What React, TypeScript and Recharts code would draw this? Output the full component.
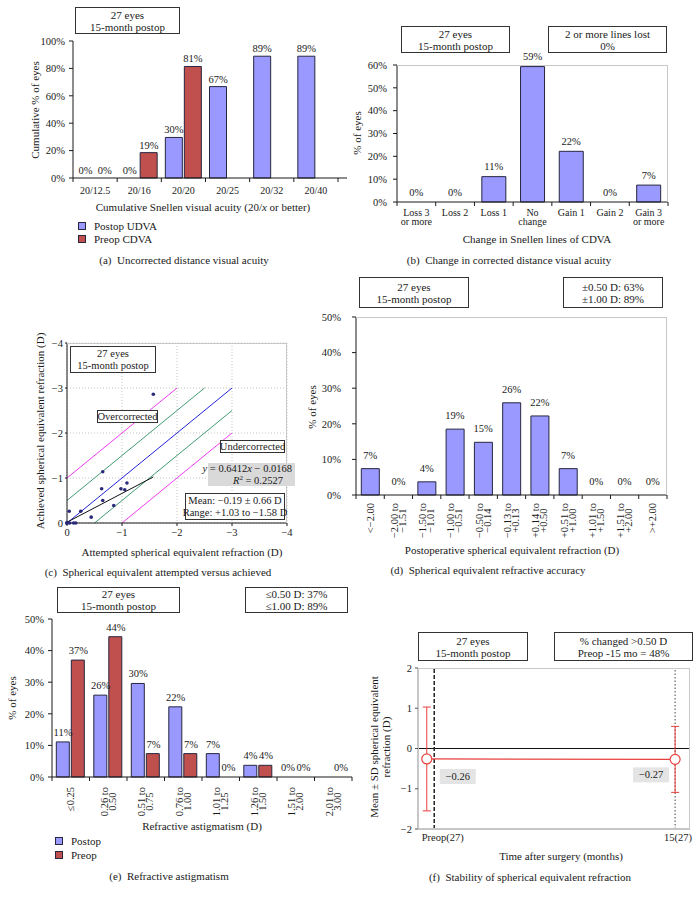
import React from "react";
import {
  Bar,
  CartesianGrid,
  ComposedChart,
  ErrorBar,
  LabelList,
  Line,
  ReferenceLine,
  Scatter,
  ScatterChart,
  XAxis,
  YAxis,
} from "recharts";

const FONT = '"Liberation Serif", "DejaVu Serif", serif';
const INK = "#1a1a1a";
const POSTOP = "#9999ff";
const PREOP = "#c0504d";
const EDGE = "#262640";
const FRAME = "#c8c8c8";
const SE_RED = "#e8403c";

// (a) cumulative UDVA / CDVA, % of 27 eyes
const acuityLabels = ["20/12.5", "20/16", "20/20", "20/25", "20/32", "20/40"];
const postopUdva = [0, 0, 29.6, 66.7, 88.9, 88.9];
const preopCdva = [0, 18.5, 81.4, null, null, null];
const acuityTicks = [0, 20, 40, 60, 80, 100];

// (b) change in Snellen lines of CDVA
const lineChangeLabels = ["Loss 3\nor more", "Loss 2", "Loss 1", "No\nchange", "Gain 1", "Gain 2", "Gain 3\nor more"];
const lineChangePct = [0, 0, 11.1, 59.3, 22.2, 0, 7.4];
const lineChangeTicks = [0, 10, 20, 30, 40, 50, 60];

// (c) attempted vs achieved SE (D)
const attemptedSE = [0, 0, 0, 0, -0.05, -0.12, -0.16, -0.04, -0.25, -0.44, -0.63, -0.65, -0.65, -0.85, -0.98, -1.05, -1.09, -1.57];
const achievedSE = [0, 0, 0, 0, 0, 0, 0, -0.26, -0.26, -0.13, -0.76, -1.14, -0.5, -0.39, -0.76, -0.74, -0.89, -2.86];
const seAxisTicks = [0, -1, -2, -3, -4];
const bandOffsets = [-1, -0.5, 0, 0.5, 1];
const bandColors = ["#f03cf0", "#3f9c70", "#2424d8", "#3f9c70", "#f03cf0"];
const fitSlope = 0.6412;
const fitIntercept = -0.0168;
const fitMinAttempted = -1.57;

// (d) postop SE accuracy
const seBins = ["<\u22122.00", "\u22122.00 to\n\u22121.51", "\u22121.50 to\n\u22121.01", "\u22121.00 to\n\u22120.51", "\u22120.50 to\n\u22120.14", "\u22120.13 to\n+0.13", "+0.14 to\n+0.50", "+0.51 to\n+1.00", "+1.01 to\n+1.50", "+1.51 to\n+2.00", ">+2.00"];
const sePct = [7.4, 0, 3.7, 18.5, 14.8, 25.9, 22.2, 7.4, 0, 0, 0];
const sePctTicks = [0, 10, 20, 30, 40, 50];

// (e) refractive astigmatism
const cylBins = ["\u22640.25", "0.26 to\n0.50", "0.51 to\n0.75", "0.76 to\n1.00", "1.01 to\n1.25", "1.26 to\n1.50", "1.51 to\n2.00", "2.01 to\n3.00"];
const cylPostop = [11.1, 25.9, 29.6, 22.2, 7.4, 3.7, 0, null];
const cylPreop = [37.0, 44.4, 7.4, 7.4, 0, 3.7, 0, 0];
const cylTicks = [0, 10, 20, 30, 40, 50];

// (f) stability of SE
const visitLabels = ["Preop(27)", "15(27)"];
const visitMonths = [0, 15];
const seMean = [-0.26, -0.27];
const seSd = [1.29, 0.82];
const stabilityTicks = [-2, -1, 0, 1, 2];

const acuityRows = acuityLabels.map((label, i) => ({ label, postop: postopUdva[i], preop: preopCdva[i] }));
const lineChangeRows = lineChangeLabels.map((label, i) => ({ label, pct: lineChangePct[i] }));
const scatterRows = attemptedSE.map((x, i) => ({ x, y: achievedSE[i] }));
const bandSegments = bandOffsets.map((o) => {
  const x0 = Math.min(0, -o);
  const x1 = Math.max(-3, -3 - o);
  return [
    { x: x0, y: x0 + o },
    { x: x1, y: x1 + o },
  ];
});
const fitSegment = [
  { x: 0, y: fitIntercept },
  { x: fitMinAttempted, y: fitSlope * fitMinAttempted + fitIntercept },
];
const seRows = seBins.map((label, i) => ({ label, pct: sePct[i] }));
const cylRows = cylBins.map((label, i) => ({ label, postop: cylPostop[i], preop: cylPreop[i] }));
const stabilityRows = visitMonths.map((month, i) => ({ month, mean: seMean[i], sd: seSd[i] }));

type Rect = { x: number; y: number; w: number; h: number };
const PLOT_A: Rect = { x: 73, y: 41, w: 274, h: 137 };
const PLOT_B: Rect = { x: 397, y: 65, w: 271, h: 137 };
const PLOT_C: Rect = { x: 67, y: 343, w: 220, h: 180 };
const PLOT_D: Rect = { x: 356, y: 317, w: 311, h: 178 };
const PLOT_E: Rect = { x: 52, y: 619, w: 300, h: 158 };
const PLOT_F: Rect = { x: 418, y: 668, w: 272, h: 161 };

function frame(plot: Rect, yw: number, xh: number, mt = 14, mr = 10) {
  return {
    left: plot.x - yw,
    top: plot.y - mt,
    width: yw + plot.w + mr,
    height: mt + plot.h + xh,
    margin: { top: mt, right: mr, bottom: 0, left: 0 },
  };
}

let measureCtx: CanvasRenderingContext2D | null = null;
function textWidth(s: string, size: number) {
  if (!measureCtx && typeof document !== "undefined") measureCtx = document.createElement("canvas").getContext("2d");
  if (!measureCtx) return s.length * size * 0.5;
  measureCtx.font = `${size}px ${FONT}`;
  return measureCtx.measureText(s).width;
}

const pctLabel = (v: any) => (v == null || v === "" ? "" : `${Math.round(Number(v))}%`);
const signed = (v: any) => (Number(v) < 0 ? `\u2212${Math.abs(Number(v))}` : `${v}`);
const yTick = { fontSize: 10.5, fontFamily: FONT, fill: INK };

// value label above a bar, drawn as a scatter mark so zero-height bars still get one
const barTag = (key: string, dx: number, lift: number) => (p: any) => {
  const v = p.payload?.[key];
  if (v == null || p.cx == null || p.cy == null || Number.isNaN(p.cy)) return <g />;
  return (
    <text x={p.cx + dx} y={p.cy - lift} textAnchor="middle" fontSize={10.5} fontFamily={FONT} fill={INK}>
      {pctLabel(v)}
    </text>
  );
};

function CategoryTick(props: any) {
  const { x = 0, y = 0, payload, index = 0, cw, count, baseline = 14, rotated = false, gap = 8 } = props;
  const lines = String(payload?.value ?? "").split("\n");
  const marks = [x - cw / 2];
  if (index === count - 1) marks.push(x + cw / 2);
  let body: React.ReactNode;
  if (rotated) {
    const size = 10.5;
    const maxW = Math.max(...lines.map((l) => textWidth(l, size)));
    body = (
      <g transform={`translate(${x},${y + gap}) rotate(-90)`}>
        {lines.map((l, i) => (
          <text key={i} x={-maxW / 2} y={(i - (lines.length - 1) / 2) * 8 + 3.5} textAnchor="middle" fontSize={size} fontFamily={FONT} fill={INK}>
            {l}
          </text>
        ))}
      </g>
    );
  } else {
    body = lines.map((l, i) => (
      <text key={i} x={x} y={y + baseline + i * 9.5} textAnchor="middle" fontSize={10} fontFamily={FONT} fill={INK}>
        {l}
      </text>
    ));
  }
  return (
    <g>
      {marks.map((mx, i) => (
        <line key={`m${i}`} x1={mx} x2={mx} y1={y} y2={y + 4} stroke={INK} />
      ))}
      {body}
    </g>
  );
}

function VisitTick(props: any) {
  const { x = 0, y = 0, payload } = props;
  const i = visitMonths.indexOf(Number(payload?.value));
  const first = i === 0;
  return (
    <text x={first ? x - 5 : x + 17} y={y + 11.5} textAnchor={first ? "start" : "end"} fontSize={10.5} fontFamily={FONT} fill={INK}>
      {visitLabels[i]}
    </text>
  );
}

const F_LOCAL_MID = 20 + PLOT_F.w / 2;
function MeanTag(props: any) {
  const x = props.x ?? props.viewBox?.x;
  const y = props.y ?? props.viewBox?.y;
  if (x == null || y == null || props.value == null) return null;
  const right = x < F_LOCAL_MID;
  const bx = right ? x + 13 : x - 42;
  const by = y + (right ? 10 : 8);
  return (
    <g>
      <rect x={bx} y={by} width={36} height={15} fill="#e4e4e4" />
      <text x={bx + 18} y={by + 11} textAnchor="middle" fontSize={10.5} fontFamily={FONT} fill={INK}>
        {signed(props.value)}
      </text>
    </g>
  );
}

function Box({ x, y, w, h, lines, size = 11, bg = "#fff", border = true, align = "center" }: any) {
  return (
    <div
      style={{
        position: "absolute",
        left: x,
        top: y,
        width: w,
        height: h,
        boxSizing: "border-box",
        border: border ? "1px solid #333" : "none",
        background: bg,
        display: "flex",
        flexDirection: "column",
        justifyContent: "center",
        alignItems: align,
        padding: align === "center" ? 0 : "0 3px",
        fontSize: size,
        lineHeight: `${size + 1}px`,
        whiteSpace: "nowrap",
      }}
    >
      {lines.map((l: React.ReactNode, i: number) => (
        <div key={i}>{l}</div>
      ))}
    </div>
  );
}

function Txt({ x, y, children, size = 11, rotate = false }: any) {
  return (
    <div
      style={{
        position: "absolute",
        left: x,
        top: y,
        transform: `translate(-50%,-50%)${rotate ? " rotate(-90deg)" : ""}`,
        whiteSpace: "pre",
        fontSize: size,
        lineHeight: `${size + 1}px`,
        textAlign: "center",
      }}
    >
      {children}
    </div>
  );
}

function LegendKey({ x, y, color, label }: any) {
  return (
    <div style={{ position: "absolute", left: x, top: y - 6, height: 12, display: "flex", alignItems: "center", fontSize: 11, whiteSpace: "nowrap" }}>
      <span style={{ display: "inline-block", width: 6, height: 6, background: color, border: `1px solid ${EDGE}`, marginRight: 8 }} />
      {label}
    </div>
  );
}

function Border({ plot, sides }: { plot: Rect; sides: string }) {
  const s = `1px solid ${FRAME}`;
  return (
    <div
      style={{
        position: "absolute",
        left: plot.x,
        top: plot.y,
        width: plot.w,
        height: plot.h,
        boxSizing: "border-box",
        borderTop: sides.includes("t") ? s : "none",
        borderRight: sides.includes("r") ? s : "none",
        borderBottom: sides.includes("b") ? s : "none",
        borderLeft: sides.includes("l") ? s : "none",
        pointerEvents: "none",
      }}
    />
  );
}

export default function App() {
  const fa = frame(PLOT_A, 40, 30);
  const fb = frame(PLOT_B, 40, 30);
  const fc = frame(PLOT_C, 30, 22, 8);
  const fd = frame(PLOT_D, 40, 50);
  const fe = frame(PLOT_E, 40, 50);
  const ff = frame(PLOT_F, 20, 20, 8);

  return (
    <div style={{ position: "absolute", left: 0, top: 0, width: 700, height: 899, background: "#fff", fontFamily: FONT, color: INK, overflow: "hidden" }}>
      {/* (a) */}
      <div style={{ position: "absolute", left: fa.left, top: fa.top }}>
        <ComposedChart width={fa.width} height={fa.height} margin={fa.margin} data={acuityRows} barCategoryGap={4} barGap={2}>
          <XAxis
            dataKey="label"
            interval={0}
            height={30}
            padding={{ left: 0, right: 9 }}
            tickLine={false}
            tickSize={0}
            tickMargin={0}
            axisLine={{ stroke: INK }}
            tick={(p: any) => <CategoryTick {...p} cw={265 / 6} count={6} baseline={15.5} />}
          />
          <YAxis domain={[0, 100]} ticks={acuityTicks} interval={0} tickFormatter={(v) => `${v}%`} width={40} tickSize={4} tickMargin={4} axisLine={{ stroke: INK }} tickLine={{ stroke: INK }} tick={yTick} />
          <Bar dataKey="postop" fill={POSTOP} stroke={EDGE} strokeWidth={1} isAnimationActive={false} />
          <Bar dataKey="preop" fill={PREOP} stroke={EDGE} strokeWidth={1} isAnimationActive={false} />
          <Scatter dataKey="postop" isAnimationActive={false} shape={barTag("postop", -9.55, 4)} />
          <Scatter dataKey="preop" isAnimationActive={false} shape={barTag("preop", 9.55, 4)} />
        </ComposedChart>
      </div>

      {/* (b) */}
      <div style={{ position: "absolute", left: fb.left, top: fb.top }}>
        <ComposedChart width={fb.width} height={fb.height} margin={fb.margin} data={lineChangeRows} barCategoryGap={7.4}>
          <XAxis
            dataKey="label"
            interval={0}
            height={30}
            tickLine={false}
            tickSize={0}
            tickMargin={0}
            axisLine={{ stroke: INK }}
            tick={(p: any) => <CategoryTick {...p} cw={PLOT_B.w / 7} count={7} baseline={13.5} />}
          />
          <YAxis domain={[0, 60]} ticks={lineChangeTicks} interval={0} tickFormatter={(v) => `${v}%`} width={40} tickSize={4} tickMargin={6} axisLine={{ stroke: INK }} tickLine={{ stroke: INK }} tick={yTick} />
          <Bar dataKey="pct" fill={POSTOP} stroke={EDGE} strokeWidth={1} isAnimationActive={false} />
          <Scatter dataKey="pct" isAnimationActive={false} shape={barTag("pct", 0, 6.5)} />
        </ComposedChart>
      </div>
      <Border plot={PLOT_B} sides="tr" />

      {/* (c) */}
      <div style={{ position: "absolute", left: fc.left, top: fc.top }}>
        <ScatterChart width={fc.width} height={fc.height} margin={fc.margin}>
          <CartesianGrid stroke="#c4c4c4" strokeDasharray="1 2" />
          <XAxis type="number" dataKey="x" domain={[-4, 0]} reversed ticks={seAxisTicks} interval={0} tickFormatter={signed} height={22} tickSize={3} tickMargin={3} axisLine={{ stroke: INK }} tickLine={{ stroke: INK }} tick={yTick} />
          <YAxis type="number" dataKey="y" domain={[-4, 0]} reversed ticks={seAxisTicks} interval={0} tickFormatter={signed} width={30} tickSize={2} tickMargin={2} axisLine={{ stroke: INK }} tickLine={{ stroke: INK }} tick={yTick} />
          {bandSegments.map((seg, i) => (
            <ReferenceLine key={i} segment={seg} stroke={bandColors[i]} strokeWidth={1} />
          ))}
          <ReferenceLine segment={fitSegment} stroke="#111" strokeWidth={1} />
          <Scatter data={scatterRows} fill="#2a2a7a" isAnimationActive={false} shape={(p: any) => <circle cx={p.cx} cy={p.cy} r={1.8} fill="#2a2a7a" />} />
        </ScatterChart>
      </div>
      <Border plot={PLOT_C} sides="tr" />

      {/* (d) */}
      <div style={{ position: "absolute", left: fd.left, top: fd.top }}>
        <ComposedChart width={fd.width} height={fd.height} margin={fd.margin} data={seRows} barCategoryGap={5.3}>
          <XAxis
            dataKey="label"
            interval={0}
            height={50}
            tickLine={false}
            tickSize={0}
            tickMargin={0}
            axisLine={{ stroke: INK }}
            tick={(p: any) => <CategoryTick {...p} cw={PLOT_D.w / 11} count={11} rotated gap={8} />}
          />
          <YAxis domain={[0, 50]} ticks={sePctTicks} interval={0} tickFormatter={(v) => `${v}%`} width={40} tickSize={4} tickMargin={11} axisLine={{ stroke: INK }} tickLine={{ stroke: INK }} tick={yTick} />
          <Bar dataKey="pct" fill={POSTOP} stroke={EDGE} strokeWidth={1} isAnimationActive={false} />
          <Scatter dataKey="pct" isAnimationActive={false} shape={barTag("pct", 0, 10)} />
        </ComposedChart>
      </div>
      <Border plot={PLOT_D} sides="tr" />

      {/* (e) */}
      <div style={{ position: "absolute", left: fe.left, top: fe.top }}>
        <ComposedChart width={fe.width} height={fe.height} margin={fe.margin} data={cylRows} barCategoryGap={4.3} barGap={2}>
          <XAxis
            dataKey="label"
            interval={0}
            height={50}
            tickLine={false}
            tickSize={0}
            tickMargin={0}
            axisLine={{ stroke: INK }}
            tick={(p: any) => <CategoryTick {...p} cw={PLOT_E.w / 8} count={8} rotated gap={10} />}
          />
          <YAxis domain={[0, 50]} ticks={cylTicks} interval={0} tickFormatter={(v) => `${v}%`} width={40} tickSize={4} tickMargin={4} axisLine={{ stroke: INK }} tickLine={{ stroke: INK }} tick={yTick} />
          <Bar dataKey="postop" fill={POSTOP} stroke={EDGE} strokeWidth={1} isAnimationActive={false} />
          <Bar dataKey="preop" fill={PREOP} stroke={EDGE} strokeWidth={1} isAnimationActive={false} />
          <Scatter dataKey="postop" isAnimationActive={false} shape={barTag("postop", -7.7, 6)} />
          <Scatter dataKey="preop" isAnimationActive={false} shape={barTag("preop", 7.7, 6)} />
        </ComposedChart>
      </div>

      {/* (f) */}
      <div style={{ position: "absolute", left: ff.left, top: ff.top }}>
        <ComposedChart width={ff.width} height={ff.height} margin={ff.margin} data={stabilityRows}>
          <XAxis type="number" dataKey="month" domain={[-0.53, 15.9]} allowDataOverflow ticks={visitMonths} interval={0} height={20} tickLine={false} tickSize={0} tickMargin={0} axisLine={{ stroke: "#8c8c8c" }} tick={(p: any) => <VisitTick {...p} />} />
          <YAxis domain={[-2, 2]} ticks={stabilityTicks} interval={0} tickFormatter={signed} width={20} tickSize={3} tickMargin={3} axisLine={{ stroke: "#8c8c8c" }} tickLine={{ stroke: "#555" }} tick={yTick} />
          <ReferenceLine y={0} stroke="#111" strokeWidth={1} />
          <ReferenceLine x={0.45} stroke="#222" strokeWidth={1.5} strokeDasharray="4 2" />
          <ReferenceLine x={15} stroke="#444" strokeWidth={1} strokeDasharray="1.5 2" />
          <Line
            dataKey="mean"
            stroke={SE_RED}
            strokeWidth={1.2}
            isAnimationActive={false}
            dot={(p: any) => <circle key={`dot${p.index}`} cx={p.cx} cy={p.cy} r={5} fill="#fff" stroke={SE_RED} strokeWidth={1.2} />}
          >
            <ErrorBar dataKey="sd" width={4} stroke={SE_RED} strokeWidth={1} direction="y" />
            <LabelList dataKey="mean" content={(p: any) => <MeanTag {...p} />} />
          </Line>
        </ComposedChart>
      </div>
      <Border plot={PLOT_F} sides="trbl" />

      {/* text: (a) */}
      <Box x={75} y={7} w={105} h={27} lines={["27 eyes", "15-month postop"]} />
      <Txt x={35} y={110} rotate>Cumulative % of eyes</Txt>
      <Txt x={203} y={207}>
        Cumulative Snellen visual acuity (20/<i>x</i> or better)
      </Txt>
      <LegendKey x={78} y={226} color={POSTOP} label="Postop UDVA" />
      <LegendKey x={78} y={239} color={PREOP} label="Preop CDVA" />
      <Txt x={184} y={260}>{"(a)  Uncorrected distance visual acuity"}</Txt>

      {/* text: (b) */}
      <Box x={401} y={26} w={109} h={27} lines={["27 eyes", "15-month postop"]} />
      <Box x={548} y={26} w={119} h={27} lines={["2 or more lines lost", "0%"]} />
      <Txt x={357} y={133} rotate>% of eyes</Txt>
      <Txt x={537} y={239}>Change in Snellen lines of CDVA</Txt>
      <Txt x={509} y={260}>{"(b)  Change in corrected distance visual acuity"}</Txt>

      {/* text: (c) */}
      <Box x={70} y={346} w={86} h={27} lines={["27 eyes", "15-month postop"]} size={10.5} />
      <Box x={97} y={410} w={61} h={13} lines={["Overcorrected"]} size={10.5} />
      <Box x={220} y={440} w={65} h={13} lines={["Undercorrected"]} size={10.5} />
      <Box
        x={208}
        y={463}
        w={87}
        h={23}
        border={false}
        bg="#d9d9d9"
        align="flex-end"
        size={10.5}
        lines={[
          <span>
            <i>y</i> = 0.6412<i>x</i> {"\u2212"} 0.0168
          </span>,
          <span style={{ marginRight: 9 }}>
            <i>R</i>
            <sup style={{ fontSize: 7, lineHeight: 0 }}>2</sup> = 0.2527
          </span>,
        ]}
      />
      <Box x={185} y={493} w={100} h={27} size={10.5} lines={["Mean: \u22120.19 \u00b1 0.66 D", "Range: +1.03 to \u22121.58 D"]} />
      <Txt x={40} y={431} rotate>Achieved spherical equivalent refraction (D)</Txt>
      <Txt x={182} y={552}>Attempted spherical equivalent refraction (D)</Txt>
      <Txt x={158} y={572}>{"(c)  Spherical equivalent attempted versus achieved"}</Txt>

      {/* text: (d) */}
      <Box x={359} y={277} w={110} h={31} lines={["27 eyes", "15-month postop"]} />
      <Box x={563} y={277} w={100} h={31} lines={["\u00b10.50 D: 63%", "\u00b11.00 D: 89%"]} />
      <Txt x={312} y={407} rotate>% of eyes</Txt>
      <Txt x={512} y={550}>Postoperative spherical equivalent refraction (D)</Txt>
      <Txt x={488} y={570}>{"(d)  Spherical equivalent refractive accuracy"}</Txt>

      {/* text: (e) */}
      <Box x={57} y={587} w={123} h={26} lines={["27 eyes", "15-month postop"]} />
      <Box x={245} y={587} w={103} h={26} lines={["\u22640.50 D: 37%", "\u22641.00 D: 89%"]} />
      <Txt x={12} y={698} rotate>% of eyes</Txt>
      <Txt x={202} y={826}>Refractive astigmatism (D)</Txt>
      <LegendKey x={55} y={841} color={POSTOP} label="Postop" />
      <LegendKey x={55} y={855} color={PREOP} label="Preop" />
      <Txt x={169} y={876}>{"(e)  Refractive astigmatism"}</Txt>

      {/* text: (f) */}
      <Box x={418} y={632} w={110} h={29} lines={["27 eyes", "15-month postop"]} />
      <Box x={554} y={632} w={139} h={29} lines={["% changed >0.50 D", "Preop -15 mo = 48%"]} />
      <Txt x={380} y={747} rotate>
        {"Mean \u00b1 SD spherical equivalent\nrefraction (D)"}
      </Txt>
      <Txt x={561} y={856}>Time after surgery (months)</Txt>
      <Txt x={530} y={877}>{"(f)  Stability of spherical equivalent refraction"}</Txt>
    </div>
  );
}
